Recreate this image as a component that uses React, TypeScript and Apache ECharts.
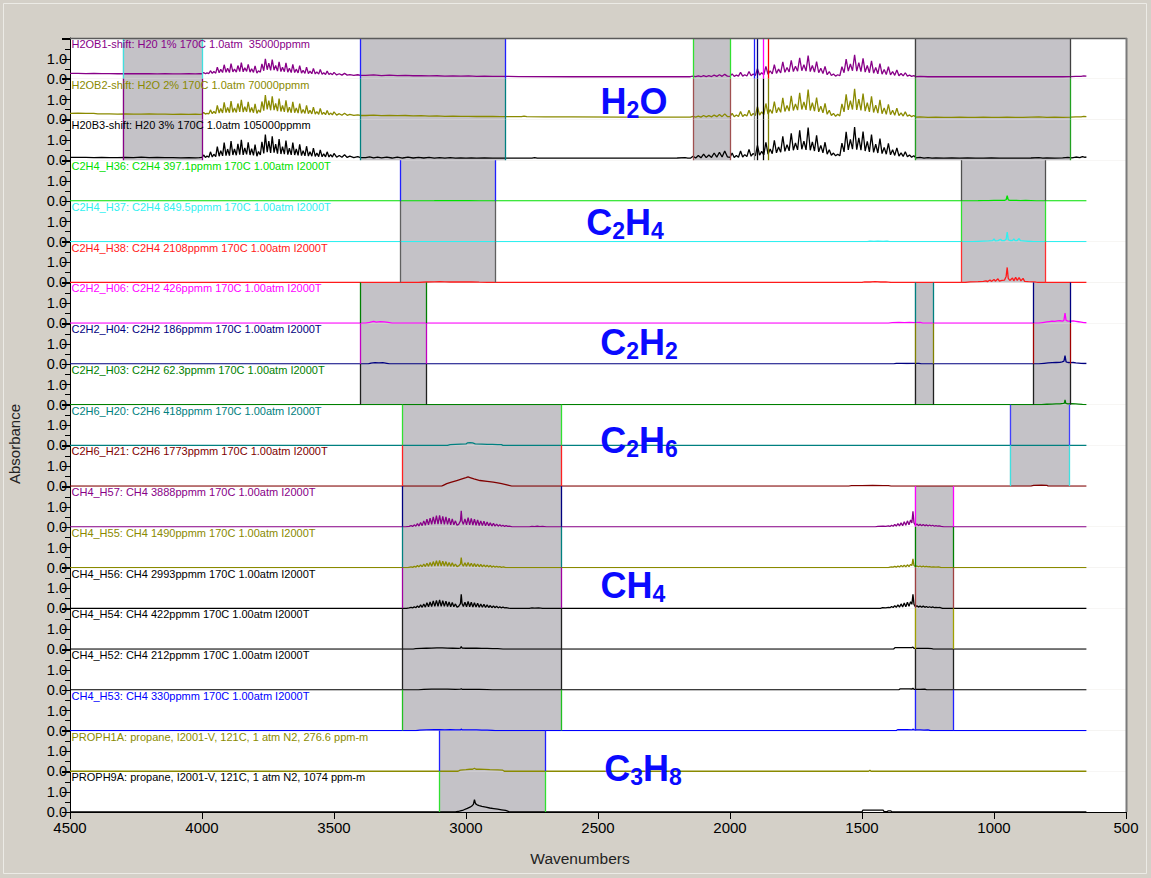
import React, { useEffect, useRef } from "react";
import * as echarts from "echarts";

// ---------- axes ----------
const X_MIN = 500;
const X_MAX = 4500;
const X_STEP = 500;
const Y_MAX = 2.04;
const Y_TICK_LABELS: Record<number, string> = { 0: "0.0", 1: "1.0" };

// ---------- strip labels & colours ----------
const LABELS = [
  "H2OB1-shift: H20 1% 170C 1.0atm  35000ppmm",
  "H2OB2-shift: H2O 2% 170C 1.0atm 70000ppmm",
  "H20B3-shift: H20 3% 170C 1.0atm 105000ppmm",
  "C2H4_H36: C2H4 397.1ppmm 170C 1.00atm I2000T",
  "C2H4_H37: C2H4 849.5ppmm 170C 1.00atm I2000T",
  "C2H4_H38: C2H4 2108ppmm 170C 1.00atm I2000T",
  "C2H2_H06: C2H2 426ppmm 170C 1.00atm I2000T",
  "C2H2_H04: C2H2 186ppmm 170C 1.00atm I2000T",
  "C2H2_H03: C2H2 62.3ppmm 170C 1.00atm I2000T",
  "C2H6_H20: C2H6 418ppmm 170C 1.00atm I2000T",
  "C2H6_H21: C2H6 1773ppmm 170C 1.00atm I2000T",
  "CH4_H57: CH4 3888ppmm 170C 1.00atm I2000T",
  "CH4_H55: CH4 1490ppmm 170C 1.00atm I2000T",
  "CH4_H56: CH4 2993ppmm 170C 1.00atm I2000T",
  "CH4_H54: CH4 422ppmm 170C 1.00atm I2000T",
  "CH4_H52: CH4 212ppmm 170C 1.00atm I2000T",
  "CH4_H53: CH4 330ppmm 170C 1.00atm I2000T",
  "PROPH1A: propane, I2001-V, 121C, 1 atm N2, 276.6 ppm-m",
  "PROPH9A: propane, I2001-V, 121C, 1 atm N2, 1074 ppm-m",
];

const COLORS = [
  "#880088", "#8a8a00", "#000000",
  "#00e000", "#30f0f0", "#ff1a1a",
  "#ff00ff", "#000080", "#008000",
  "#008080", "#800000",
  "#880088", "#8a8a00", "#000000", "#000000", "#000000", "#0000ff",
  "#8a8a00", "#000000",
];

// ---------- spectra [wavenumber, absorbance] ----------
const H2O_B1: [number, number][] = [
  [4500,0.27],[4470,0.27],[4440,0.26],[4410,0.27],[4380,0.26],[4350,0.26],[4320,0.25],[4290,0.26],[4260,0.25],[4230,0.25],[4200,0.25],[4170,0.24],[4140,0.25],[4110,0.24],[4080,0.24],[4050,0.25],[4025,0.24],[4010,0.25],
  [4000,0.25],[3994,0.31],[3987,0.25],[3981,0.29],[3974,0.26],[3968,0.40],[3961,0.27],[3955,0.36],[3948,0.28],[3942,0.58],[3935,0.30],[3929,0.47],[3922,0.31],[3916,0.70],[3909,0.32],[3903,0.52],[3896,0.31],[3890,0.76],[3883,0.34],[3877,0.49],[3870,0.33],[3864,0.66],[3857,0.36],[3851,0.81],[3844,0.35],[3838,0.55],[3831,0.37],[3825,0.72],[3818,0.33],[3812,0.50],[3805,0.32],[3799,0.64],[3792,0.28],[3786,0.40],[3779,0.33],[3773,0.74],[3766,0.40],[3760,1.00],[3753,0.45],[3747,0.78],[3740,0.42],[3734,0.96],[3727,0.43],[3721,0.66],[3714,0.38],[3708,0.85],[3701,0.36],[3695,0.58],[3688,0.35],[3682,0.79],[3675,0.33],[3669,0.52],[3662,0.31],[3656,0.72],[3649,0.31],[3643,0.48],[3636,0.29],[3630,0.66],[3623,0.28],[3617,0.42],[3610,0.27],[3604,0.58],[3597,0.26],[3591,0.38],[3584,0.25],[3578,0.52],[3571,0.24],[3565,0.34],[3558,0.23],[3552,0.46],[3545,0.22],[3539,0.30],[3532,0.21],[3526,0.38],[3519,0.21],[3513,0.27],[3506,0.20],[3500,0.32],[3490,0.19],[3480,0.25],[3470,0.18],[3460,0.27],[3450,0.18],[3440,0.21],[3425,0.17],[3410,0.20],[3400,0.17],
  [3380,0.17],[3350,0.19],[3320,0.16],[3290,0.18],[3260,0.16],[3230,0.17],[3200,0.15],[3170,0.16],[3140,0.14],[3110,0.15],[3080,0.13],[3050,0.14],[3020,0.13],[2990,0.14],[2960,0.12],[2930,0.13],[2900,0.12],[2870,0.12],
  [2800,0.11],[2600,0.10],[2400,0.10],[2250,0.10],[2200,0.10],[2160,0.10],
  [2150,0.10],[2140,0.13],[2130,0.10],[2120,0.14],[2110,0.10],[2100,0.16],[2090,0.11],[2080,0.15],[2070,0.11],[2060,0.18],[2050,0.12],[2040,0.20],[2030,0.12],[2020,0.22],[2010,0.13],
  [2000,0.12],[1992,0.24],[1984,0.12],[1976,0.18],[1968,0.13],[1960,0.32],[1952,0.13],[1944,0.20],[1936,0.14],[1928,0.36],[1920,0.15],[1912,0.24],[1904,0.16],[1896,0.50],[1888,0.18],[1880,0.30],[1872,0.20],[1864,0.62],[1856,0.22],[1848,0.40],[1840,0.24],[1832,0.70],[1824,0.27],[1816,0.48],[1808,0.29],[1800,0.84],[1792,0.32],[1784,0.56],[1776,0.34],[1768,0.92],[1760,0.36],[1752,0.62],[1744,0.38],[1736,1.04],[1728,0.40],[1720,0.70],[1712,0.38],[1704,1.16],[1696,0.36],[1688,0.66],[1680,0.33],[1672,0.86],[1664,0.30],[1656,0.52],[1648,0.26],[1640,0.62],[1632,0.20],[1624,0.36],[1616,0.16],[1608,0.24],[1600,0.13],[1592,0.20],[1584,0.15],[1576,0.60],[1568,0.30],[1560,0.98],[1552,0.38],[1544,0.74],[1536,0.40],[1528,1.20],[1520,0.38],[1512,0.80],[1504,0.36],[1496,1.02],[1488,0.33],[1480,0.66],[1472,0.30],[1464,0.90],[1456,0.28],[1448,0.56],[1440,0.25],[1432,0.76],[1424,0.23],[1416,0.46],[1408,0.21],[1400,0.60],[1392,0.19],[1384,0.36],[1376,0.17],[1368,0.44],[1360,0.15],[1352,0.26],[1344,0.14],[1336,0.30],[1328,0.13],[1320,0.18],[1312,0.12],[1304,0.16],
  [1296,0.11],[1280,0.12],[1250,0.10],[1220,0.11],[1190,0.10],[1160,0.10],[1130,0.11],[1100,0.10],[1070,0.10],[1040,0.11],[1010,0.10],[980,0.10],[950,0.11],[920,0.10],[890,0.10],[860,0.10],[830,0.11],[800,0.10],[770,0.11],[740,0.10],[710,0.11],[690,0.12],[670,0.12],[660,0.14],[650,0.13],
];

const H2O_B2: [number, number][] = [
  [4500,0.31],[4470,0.32],[4440,0.31],[4410,0.31],[4395,0.28],[4380,0.28],[4350,0.28],[4320,0.27],[4290,0.28],[4260,0.27],[4230,0.27],[4200,0.28],[4170,0.27],[4140,0.27],[4110,0.26],[4080,0.27],[4050,0.26],[4025,0.27],[4010,0.26],
  [4000,0.27],[3994,0.35],[3987,0.27],[3981,0.31],[3974,0.28],[3968,0.48],[3961,0.29],[3955,0.40],[3948,0.30],[3942,0.70],[3935,0.32],[3929,0.55],[3922,0.33],[3916,0.86],[3909,0.34],[3903,0.60],[3896,0.34],[3890,0.92],[3883,0.36],[3877,0.58],[3870,0.35],[3864,0.80],[3857,0.38],[3851,0.98],[3844,0.37],[3838,0.64],[3831,0.39],[3825,0.88],[3818,0.36],[3812,0.60],[3805,0.34],[3799,0.78],[3792,0.30],[3786,0.48],[3779,0.36],[3773,0.90],[3766,0.44],[3760,1.22],[3753,0.50],[3747,0.94],[3740,0.46],[3734,1.16],[3727,0.47],[3721,0.80],[3714,0.42],[3708,1.04],[3701,0.40],[3695,0.70],[3688,0.38],[3682,0.96],[3675,0.36],[3669,0.62],[3662,0.34],[3656,0.88],[3649,0.34],[3643,0.58],[3636,0.32],[3630,0.80],[3623,0.31],[3617,0.50],[3610,0.30],[3604,0.70],[3597,0.29],[3591,0.46],[3584,0.28],[3578,0.62],[3571,0.27],[3565,0.40],[3558,0.26],[3552,0.55],[3545,0.25],[3539,0.36],[3532,0.24],[3526,0.45],[3519,0.24],[3513,0.32],[3506,0.23],[3500,0.38],[3490,0.22],[3480,0.29],[3470,0.21],[3460,0.31],[3450,0.21],[3440,0.25],[3425,0.20],[3410,0.23],[3400,0.20],
  [3380,0.20],[3350,0.22],[3320,0.19],[3290,0.20],[3260,0.19],[3230,0.20],[3200,0.18],[3170,0.19],[3140,0.17],[3110,0.18],[3080,0.16],[3050,0.17],[3020,0.16],[2990,0.16],[2960,0.15],[2930,0.15],[2900,0.15],[2870,0.14],[2790,0.14],[2780,0.17],[2770,0.14],
  [2700,0.13],[2600,0.13],[2400,0.12],[2250,0.12],[2200,0.12],[2160,0.12],
  [2150,0.12],[2140,0.16],[2130,0.12],[2120,0.17],[2110,0.12],[2100,0.20],[2090,0.13],[2080,0.19],[2070,0.13],[2060,0.22],[2050,0.14],[2040,0.25],[2030,0.14],[2020,0.28],[2010,0.15],
  [2000,0.14],[1992,0.30],[1984,0.14],[1976,0.22],[1968,0.15],[1960,0.40],[1952,0.15],[1944,0.25],[1936,0.17],[1928,0.46],[1920,0.18],[1912,0.30],[1904,0.20],[1896,0.64],[1888,0.22],[1880,0.38],[1872,0.24],[1864,0.80],[1856,0.27],[1848,0.50],[1840,0.30],[1832,0.90],[1824,0.33],[1816,0.60],[1808,0.36],[1800,1.08],[1792,0.40],[1784,0.70],[1776,0.42],[1768,1.18],[1760,0.45],[1752,0.78],[1744,0.47],[1736,1.34],[1728,0.50],[1720,0.88],[1712,0.48],[1704,1.50],[1696,0.45],[1688,0.84],[1680,0.42],[1672,1.10],[1664,0.38],[1656,0.66],[1648,0.33],[1640,0.80],[1632,0.26],[1624,0.46],[1616,0.20],[1608,0.30],[1600,0.16],[1592,0.26],[1584,0.18],[1576,0.78],[1568,0.38],[1560,1.26],[1552,0.48],[1544,0.94],[1536,0.50],[1528,1.54],[1520,0.48],[1512,1.02],[1504,0.45],[1496,1.30],[1488,0.42],[1480,0.84],[1472,0.38],[1464,1.16],[1456,0.35],[1448,0.72],[1440,0.32],[1432,0.98],[1424,0.29],[1416,0.58],[1408,0.26],[1400,0.76],[1392,0.24],[1384,0.46],[1376,0.21],[1368,0.56],[1360,0.19],[1352,0.33],[1344,0.17],[1336,0.38],[1328,0.16],[1320,0.23],[1312,0.14],[1304,0.20],
  [1296,0.12],[1280,0.13],[1250,0.11],[1220,0.12],[1190,0.11],[1160,0.11],[1130,0.12],[1100,0.11],[1070,0.11],[1040,0.12],[1010,0.11],[980,0.11],[950,0.12],[920,0.11],[890,0.11],[860,0.12],[830,0.13],[800,0.11],[770,0.12],[740,0.11],[710,0.12],[690,0.13],[670,0.13],[660,0.15],[650,0.14],
];

const H2O_B3: [number, number][] = [
  [4500,0.14],[4470,0.14],[4440,0.14],[4410,0.13],[4380,0.14],[4350,0.13],[4320,0.13],[4290,0.14],[4260,0.13],[4230,0.15],[4200,0.13],[4170,0.14],[4140,0.13],[4110,0.13],[4080,0.12],[4050,0.13],[4025,0.12],[4010,0.13],
  [4000,0.14],[3994,0.26],[3987,0.14],[3981,0.21],[3974,0.15],[3968,0.42],[3961,0.16],[3955,0.30],[3948,0.18],[3942,0.68],[3935,0.20],[3929,0.48],[3922,0.22],[3916,0.88],[3909,0.23],[3903,0.56],[3896,0.23],[3890,0.96],[3883,0.26],[3877,0.56],[3870,0.25],[3864,0.82],[3857,0.28],[3851,1.02],[3844,0.27],[3838,0.62],[3831,0.29],[3825,0.90],[3818,0.26],[3812,0.58],[3805,0.24],[3799,0.78],[3792,0.20],[3786,0.44],[3779,0.26],[3773,0.92],[3766,0.34],[3760,1.28],[3753,0.40],[3747,0.96],[3740,0.37],[3734,1.20],[3727,0.38],[3721,0.80],[3714,0.33],[3708,1.06],[3701,0.31],[3695,0.68],[3688,0.30],[3682,0.98],[3675,0.28],[3669,0.60],[3662,0.27],[3656,0.88],[3649,0.26],[3643,0.56],[3636,0.24],[3630,0.80],[3623,0.23],[3617,0.48],[3610,0.22],[3604,0.70],[3597,0.21],[3591,0.42],[3584,0.20],[3578,0.60],[3571,0.19],[3565,0.36],[3558,0.18],[3552,0.52],[3545,0.17],[3539,0.32],[3532,0.17],[3526,0.42],[3519,0.16],[3513,0.28],[3506,0.16],[3500,0.34],[3490,0.15],[3480,0.24],[3470,0.15],[3460,0.27],[3450,0.14],[3440,0.20],[3425,0.13],[3410,0.18],[3400,0.13],
  [3380,0.13],[3365,0.17],[3350,0.12],[3335,0.16],[3320,0.12],[3300,0.15],[3280,0.11],[3260,0.16],[3240,0.11],[3220,0.15],[3200,0.11],[3180,0.14],[3160,0.11],[3140,0.14],[3120,0.10],[3100,0.13],[3080,0.10],[3060,0.13],[3040,0.10],[3020,0.12],[3000,0.10],[2980,0.12],[2960,0.10],[2930,0.11],[2900,0.10],[2870,0.10],[2750,0.10],[2740,0.13],[2730,0.10],
  [2600,0.10],[2400,0.10],[2250,0.10],[2200,0.11],[2170,0.13],[2160,0.10],
  [2150,0.10],[2140,0.20],[2130,0.11],[2120,0.24],[2110,0.12],[2100,0.30],[2090,0.13],[2080,0.26],[2070,0.14],[2060,0.36],[2050,0.15],[2040,0.40],[2030,0.16],[2020,0.46],[2010,0.17],
  [2000,0.14],[1992,0.36],[1984,0.14],[1976,0.24],[1968,0.15],[1960,0.46],[1952,0.16],[1944,0.28],[1936,0.18],[1928,0.54],[1920,0.20],[1912,0.34],[1904,0.22],[1896,0.74],[1888,0.25],[1880,0.44],[1872,0.27],[1864,0.90],[1856,0.30],[1848,0.56],[1840,0.33],[1832,1.00],[1824,0.37],[1816,0.66],[1808,0.40],[1800,1.20],[1792,0.44],[1784,0.78],[1776,0.47],[1768,1.34],[1760,0.50],[1752,0.86],[1744,0.52],[1736,1.50],[1728,0.55],[1720,0.96],[1712,0.52],[1704,1.64],[1696,0.50],[1688,0.92],[1680,0.46],[1672,1.24],[1664,0.42],[1656,0.74],[1648,0.37],[1640,0.90],[1632,0.30],[1624,0.52],[1616,0.25],[1608,0.36],[1600,0.22],[1592,0.30],[1584,0.22],[1576,0.86],[1568,0.42],[1560,1.42],[1552,0.52],[1544,1.04],[1536,0.55],[1528,1.66],[1520,0.53],[1512,1.12],[1504,0.50],[1496,1.44],[1488,0.46],[1480,0.94],[1472,0.42],[1464,1.28],[1456,0.39],[1448,0.80],[1440,0.36],[1432,1.08],[1424,0.33],[1416,0.64],[1408,0.30],[1400,0.84],[1392,0.27],[1384,0.52],[1376,0.24],[1368,0.62],[1360,0.21],[1352,0.37],[1344,0.19],[1336,0.42],[1328,0.17],[1320,0.26],[1312,0.15],[1304,0.22],
  [1296,0.12],[1280,0.14],[1265,0.10],[1250,0.13],[1235,0.10],[1220,0.12],[1190,0.10],[1160,0.11],[1130,0.10],[1100,0.11],[1070,0.10],[1040,0.10],[1010,0.11],[980,0.10],[950,0.10],[920,0.10],[890,0.10],[860,0.11],[830,0.13],[815,0.10],[800,0.12],[770,0.10],[740,0.12],[720,0.14],[705,0.12],[690,0.16],[675,0.13],[665,0.18],[655,0.14],[650,0.17],
];

const C2H4_H36: [number, number][] = [
  [4500,0],[3200,0],[3120,0.01],[3100,0.02],[3080,0.01],[3000,0.01],[2990,0.02],[2950,0],[1100,0],[1060,0.01],[1040,0.02],[1020,0.02],[1000,0.03],[980,0.03],[960,0.03],[954,0.06],[950,0.27],[946,0.05],[940,0.03],[920,0.03],[900,0.02],[880,0.03],[860,0.02],[840,0],[650,0],
];
const C2H4_H37: [number, number][] = [
  [4500,0],[1480,0],[1470,0.03],[1455,0.02],[1440,0.03],[1420,0.02],[1405,0.03],[1395,0],[1080,0],[1060,0.02],[1040,0.03],[1020,0.04],[1005,0.05],[1000,0.14],[995,0.04],[985,0.05],[975,0.12],[970,0.05],[960,0.06],[954,0.12],[950,0.48],[946,0.10],[940,0.06],[930,0.05],[925,0.14],[920,0.05],[912,0.06],[905,0.16],[900,0.05],[890,0.04],[880,0.03],[860,0.01],[850,0],[650,0],
];
const C2H4_H38: [number, number][] = [
  [4500,0],[3180,0],[3150,0.02],[3120,0.03],[3100,0.04],[3080,0.03],[3060,0.02],[3020,0.03],[3000,0.02],[2980,0.03],[2950,0.01],[2900,0],[1500,0],[1490,0.03],[1470,0.02],[1450,0.04],[1430,0.02],[1410,0.03],[1390,0],[1110,0],[1090,0.03],[1060,0.04],[1040,0.05],[1030,0.08],[1025,0.04],[1015,0.12],[1010,0.05],[1000,0.15],[995,0.06],[985,0.18],[980,0.07],[970,0.10],[960,0.12],[954,0.30],[950,0.75],[946,0.20],[940,0.10],[930,0.22],[925,0.08],[918,0.25],[912,0.10],[905,0.24],[898,0.08],[890,0.20],[884,0.05],[870,0.04],[850,0.03],[840,0.01],[830,0],[650,0],
];

const C2H2_H06: [number, number][] = [
  [4500,0],[3380,0],[3365,0.04],[3350,0.09],[3340,0.05],[3325,0.08],[3310,0.06],[3295,0.04],[3280,0],[1400,0],[1385,0.03],[1360,0.04],[1340,0.03],[1320,0.04],[1300,0.03],[1280,0.04],[1270,0],[830,0],[815,0.03],[800,0.06],[790,0.08],[780,0.10],[770,0.09],[760,0.11],[750,0.12],[740,0.10],[735,0.15],[731,0.50],[727,0.14],[720,0.10],[710,0.10],[700,0.11],[690,0.09],[680,0.07],[670,0.05],[660,0.03],[650,0.02],
];
const C2H2_H04: [number, number][] = [
  [4500,0],[3370,0],[3360,0.04],[3345,0.06],[3330,0.05],[3315,0.06],[3300,0.03],[3290,0],[1380,0],[1370,0.03],[1350,0.03],[1330,0.02],[1300,0.03],[1285,0.03],[1275,0],[830,0],[810,0.03],[795,0.05],[780,0.06],[765,0.07],[750,0.08],[742,0.10],[735,0.14],[731,0.42],[727,0.10],[720,0.07],[710,0.06],[700,0.07],[690,0.05],[680,0.04],[670,0.03],[660,0.02],[650,0.02],
];
const C2H2_H03: [number, number][] = [
  [4500,0],[820,0],[800,0.02],[780,0.03],[765,0.04],[750,0.04],[738,0.06],[733,0.08],[731,0.24],[728,0.06],[720,0.04],[705,0.05],[690,0.04],[680,0.03],[665,0.01],[650,0],
];

const C2H6_H20: [number, number][] = [
  [4500,0],[3070,0],[3060,0.04],[3040,0.05],[3020,0.06],[3000,0.07],[2995,0.12],[2985,0.13],[2975,0.12],[2965,0.07],[2940,0.06],[2920,0.05],[2900,0.05],[2880,0.04],[2866,0.04],[2860,0],[650,0],
];
const C2H6_H21: [number, number][] = [
  [4500,0],[3092,0],[3073,0.12],[3055,0.2],[3035,0.28],[3015,0.36],[3000,0.42],[2992,0.46],[2985,0.43],[2970,0.36],[2947,0.28],[2920,0.24],[2897,0.2],[2880,0.16],[2865,0.12],[2845,0.06],[2827,0],[1550,0],[1540,0.02],[1500,0.02],[1460,0.03],[1420,0.02],[1400,0.02],[1390,0],[860,0],[850,0.04],[820,0.05],[800,0.04],[795,0],[650,0],
];

const CH4_H57: [number, number][] = [
  [4500,0],[3230,0],[3215,0.02],[3208,0.06],[3202,0.02],[3196,0.10],[3190,0.03],[3184,0.16],[3178,0.04],[3172,0.22],[3166,0.06],[3160,0.30],[3154,0.08],[3148,0.38],[3142,0.10],[3136,0.44],[3130,0.12],[3124,0.50],[3118,0.14],[3112,0.56],[3106,0.14],[3100,0.58],[3094,0.14],[3088,0.52],[3082,0.13],[3076,0.50],[3070,0.12],[3064,0.44],[3058,0.10],[3052,0.40],[3046,0.10],[3040,0.30],[3034,0.08],[3028,0.12],[3021,0.30],[3018,0.80],[3015,0.30],[3010,0.12],[3004,0.40],[2998,0.10],[2992,0.46],[2986,0.10],[2980,0.42],[2974,0.09],[2968,0.38],[2962,0.08],[2956,0.34],[2950,0.07],[2944,0.30],[2938,0.06],[2932,0.28],[2926,0.05],[2920,0.24],[2914,0.05],[2908,0.20],[2902,0.04],[2896,0.17],[2890,0.04],[2884,0.14],[2878,0.03],[2872,0.11],[2866,0.03],[2860,0.08],[2854,0.02],[2848,0.06],[2842,0.02],[2836,0.04],[2825,0],[2760,0],[2750,0.02],[2740,0.01],[2730,0.03],[2720,0.01],[2710,0.02],[2695,0],
  [1450,0],[1440,0.02],[1420,0.03],[1410,0.02],[1400,0.05],[1394,0.02],[1388,0.08],[1382,0.03],[1376,0.12],[1370,0.04],[1364,0.16],[1358,0.05],[1352,0.20],[1346,0.06],[1340,0.26],[1334,0.08],[1328,0.30],[1322,0.10],[1316,0.34],[1311,0.20],[1307,0.78],[1303,0.20],[1298,0.08],[1292,0.14],[1286,0.06],[1280,0.13],[1274,0.05],[1268,0.12],[1262,0.05],[1256,0.10],[1250,0.04],[1244,0.09],[1238,0.04],[1232,0.08],[1226,0.03],[1220,0.06],[1214,0.03],[1208,0.05],[1200,0.02],[1190,0],[650,0],
];
const CH4_H55: [number, number][] = [
  [4500,0],[3220,0],[3208,0.03],[3202,0.01],[3196,0.06],[3190,0.02],[3184,0.10],[3178,0.03],[3172,0.14],[3166,0.04],[3160,0.18],[3154,0.05],[3148,0.22],[3142,0.06],[3136,0.26],[3130,0.07],[3124,0.30],[3118,0.08],[3112,0.34],[3106,0.08],[3100,0.36],[3094,0.08],[3088,0.32],[3082,0.08],[3076,0.30],[3070,0.07],[3064,0.26],[3058,0.06],[3052,0.24],[3046,0.06],[3040,0.18],[3034,0.05],[3028,0.08],[3021,0.18],[3018,0.50],[3015,0.18],[3010,0.07],[3004,0.24],[2998,0.06],[2992,0.26],[2986,0.06],[2980,0.22],[2974,0.05],[2968,0.20],[2962,0.05],[2956,0.18],[2950,0.04],[2944,0.16],[2938,0.04],[2932,0.14],[2926,0.03],[2920,0.12],[2914,0.03],[2908,0.10],[2902,0.02],[2896,0.08],[2890,0.02],[2884,0.06],[2878,0.02],[2872,0.05],[2866,0.01],[2858,0.03],[2850,0],
  [1400,0],[1394,0.02],[1388,0.04],[1382,0.02],[1376,0.06],[1370,0.02],[1364,0.08],[1358,0.03],[1352,0.10],[1346,0.04],[1340,0.12],[1334,0.04],[1328,0.14],[1322,0.05],[1316,0.16],[1311,0.10],[1307,0.44],[1303,0.10],[1298,0.05],[1292,0.08],[1286,0.04],[1280,0.08],[1274,0.03],[1268,0.07],[1262,0.03],[1256,0.06],[1250,0.03],[1244,0.05],[1238,0.02],[1230,0.04],[1220,0.02],[1210,0.03],[1200,0],[650,0],
];
const CH4_H56: [number, number][] = [
  [4500,0],[3225,0],[3215,0.02],[3208,0.05],[3202,0.02],[3196,0.08],[3190,0.03],[3184,0.12],[3178,0.04],[3172,0.17],[3166,0.05],[3160,0.22],[3154,0.06],[3148,0.28],[3142,0.08],[3136,0.32],[3130,0.09],[3124,0.37],[3118,0.10],[3112,0.40],[3106,0.10],[3100,0.42],[3094,0.10],[3088,0.38],[3082,0.10],[3076,0.36],[3070,0.09],[3064,0.32],[3058,0.08],[3052,0.29],[3046,0.08],[3040,0.22],[3034,0.06],[3028,0.10],[3021,0.24],[3018,0.70],[3015,0.24],[3010,0.09],[3004,0.30],[2998,0.08],[2992,0.34],[2986,0.08],[2980,0.30],[2974,0.07],[2968,0.28],[2962,0.06],[2956,0.25],[2950,0.05],[2944,0.22],[2938,0.05],[2932,0.20],[2926,0.04],[2920,0.17],[2914,0.04],[2908,0.14],[2902,0.03],[2896,0.12],[2890,0.03],[2884,0.10],[2878,0.02],[2872,0.08],[2866,0.02],[2860,0.06],[2854,0.02],[2848,0.04],[2840,0.01],[2830,0],[2760,0],[2750,0.02],[2740,0.01],[2725,0.02],[2710,0],
  [1430,0],[1422,0.03],[1410,0.02],[1400,0.05],[1394,0.03],[1388,0.09],[1382,0.04],[1376,0.13],[1370,0.05],[1364,0.17],[1358,0.06],[1352,0.22],[1346,0.07],[1340,0.26],[1334,0.08],[1328,0.30],[1322,0.10],[1316,0.33],[1311,0.20],[1307,0.70],[1303,0.20],[1298,0.08],[1292,0.13],[1286,0.06],[1280,0.12],[1274,0.05],[1268,0.11],[1262,0.05],[1256,0.09],[1250,0.04],[1244,0.08],[1238,0.04],[1232,0.07],[1226,0.03],[1220,0.05],[1212,0.03],[1204,0.04],[1195,0],[650,0],
];
const CH4_H54: [number, number][] = [
  [4500,0],[3200,0],[3190,0.02],[3170,0.03],[3150,0.04],[3130,0.05],[3110,0.06],[3090,0.06],[3070,0.05],[3050,0.04],[3030,0.03],[3021,0.05],[3018,0.12],[3015,0.05],[3000,0.04],[2980,0.05],[2960,0.04],[2940,0.03],[2920,0.03],[2900,0.02],[2880,0.02],[2860,0],
  [1380,0],[1375,0.07],[1340,0.07],[1312,0.07],[1307,0.10],[1303,0.04],[1290,0.03],[1270,0.03],[1250,0.03],[1236,0.02],[1230,0],[650,0],
];
const CH4_H52: [number, number][] = [
  [4500,0],[3180,0],[3160,0.02],[3130,0.03],[3100,0.03],[3070,0.03],[3040,0.02],[3020,0.03],[3018,0.06],[3015,0.02],[2990,0.02],[2950,0.02],[2920,0.01],[2900,0],
  [1360,0],[1355,0.05],[1320,0.05],[1310,0.04],[1307,0.08],[1303,0.02],[1280,0.02],[1262,0.03],[1255,0],[650,0],
];
const CH4_H53: [number, number][] = [
  [4500,0],[3190,0],[3175,0.02],[3150,0.03],[3120,0.04],[3100,0.04],[3080,0.03],[3060,0.04],[3040,0.03],[3020,0.04],[3018,0.07],[3014,0.03],[2990,0.03],[2960,0.03],[2940,0.02],[2920,0.02],[2900,0.01],[2890,0],
  [1370,0],[1365,0.04],[1330,0.04],[1310,0.03],[1307,0.07],[1303,0.03],[1280,0.03],[1265,0.02],[1250,0.03],[1240,0],[650,0],
];

const PROPH1A: [number, number][] = [
  [4500,0],[3030,0],[3022,0.06],[3000,0.08],[2985,0.10],[2975,0.10],[2968,0.15],[2962,0.10],[2950,0.10],[2930,0.09],[2910,0.08],[2880,0.07],[2862,0.06],[2855,0],[1475,0],[1470,0.05],[1466,0],[650,0],
];
const PROPH9A: [number, number][] = [
  [4500,0],[3040,0],[3025,0.04],[3010,0.10],[2995,0.18],[2985,0.24],[2978,0.30],[2972,0.38],[2968,0.62],[2964,0.42],[2958,0.36],[2950,0.32],[2940,0.28],[2925,0.24],[2910,0.20],[2895,0.17],[2880,0.14],[2865,0.11],[2850,0.08],[2842,0.04],[2835,0],[1500,0],[1497,0.09],[1420,0.09],[1416,0.02],[1405,0.02],[1400,0.06],[1392,0.06],[1388,0.02],[1380,0],[650,0],
];

const SPECTRA = [
  H2O_B1, H2O_B2, H2O_B3,
  C2H4_H36, C2H4_H37, C2H4_H38,
  C2H2_H06, C2H2_H04, C2H2_H03,
  C2H6_H20, C2H6_H21,
  CH4_H57, CH4_H55, CH4_H56, CH4_H54, CH4_H52, CH4_H53,
  PROPH1A, PROPH9A,
];

// ---------- shaded wavenumber windows per gas group ----------
const SHADE_H2O: [number, number][] = [[4300, 4000], [3400, 2850], [2140, 2000], [1300, 710]];
const LINES_H2O = [1909, 1898, 1875, 1856];
const SHADE_C2H4: [number, number][] = [[3250, 2890], [1125, 807]];
const SHADE_C2H2: [number, number][] = [[3400, 3150], [1300, 1230], [850, 710]];
const SHADE_C2H6: [number, number][] = [[3240, 2640], [940, 715]];
const SHADE_CH4: [number, number][] = [[3240, 2640], [1300, 1155]];
const SHADE_C3H8: [number, number][] = [[3100, 2700]];

const SHADE_BY_STRIP = [
  SHADE_H2O, SHADE_H2O, SHADE_H2O,
  SHADE_C2H4, SHADE_C2H4, SHADE_C2H4,
  SHADE_C2H2, SHADE_C2H2, SHADE_C2H2,
  SHADE_C2H6, SHADE_C2H6,
  SHADE_CH4, SHADE_CH4, SHADE_CH4, SHADE_CH4, SHADE_CH4, SHADE_CH4,
  SHADE_C3H8, SHADE_C3H8,
];

// ---------- styling ----------
const FONT = "'Liberation Sans', Arial, Helvetica, sans-serif";
const BG = "#d4d0c8";
const SHADE_FILL = "#c4c2c7";
const GAS_BLUE = "#0a0aff";
const PLOT_LEFT = 70;
const PLOT_TOP = 38;
const PLOT_W = 1056;
const PLOT_H = 774;

const EDGES: string[][] = [
  ["#40e0e0", "#2020ff", "#30e030", "#404040"],
  ["#880088", "#008080", "#a05050", "#20a020"],
  ["#880088", "#008080", "#a05050", "#20a020"],
  ["#2020ff", "#505050"],
  ["#606060", "#30e030"],
  ["#606060", "#ff3030"],
  ["#008000", "#008080", "#000080"],
  ["#c000c0", "#808000", "#a00000"],
  ["#202020", "#202020", "#202020"],
  ["#30e030", "#4040ff"],
  ["#ff2020", "#40e0e0"],
  ["#000080", "#ff00ff"],
  ["#008080", "#008000"],
  ["#a000a0", "#a04040"],
  ["#202020", "#a0a000"],
  ["#202020", "#202020"],
  ["#20c020", "#2020ff"],
  ["#2020ff"],
  ["#30e030"],
];
const H2O_LINE_COLORS = [
  ["#2020ff", "#000080", "#ff00ff", "#ff0000"],
  ["#808080", "#000000", "#000000", "#808000"],
  ["#808080", "#000000", "#000000", "#808000"],
];

const GAS_LABELS = [
  { text: "{m|H}{s|2}{m|O}", x: 634, y: 101 },
  { text: "{m|C}{s|2}{m|H}{s|4}", x: 625, y: 222 },
  { text: "{m|C}{s|2}{m|H}{s|2}", x: 639, y: 342 },
  { text: "{m|C}{s|2}{m|H}{s|6}", x: 639, y: 440 },
  { text: "{m|CH}{s|4}", x: 633, y: 585 },
  { text: "{m|C}{s|3}{m|H}{s|8}", x: 643, y: 768 },
];

function buildOption() {
  const n = SPECTRA.length;
  const S = PLOT_H / n;
  const grid: any[] = [];
  const xAxis: any[] = [];
  const yAxis: any[] = [];
  const series: any[] = [];
  const graphic: any[] = [];

  for (let i = 0; i < n; i++) {
    const top = PLOT_TOP + i * S;
    const last = i === n - 1;
    grid.push({ left: PLOT_LEFT, top, width: PLOT_W, height: S, show: true, backgroundColor: "#ffffff", borderWidth: 0 });
    xAxis.push({
      type: "value", gridIndex: i, min: X_MIN, max: X_MAX, interval: X_STEP, inverse: true, show: last,
      axisLine: { show: true, onZero: false, lineStyle: { color: "#000", width: 1 } },
      axisTick: { show: true, length: 7, lineStyle: { color: "#000" } },
      axisLabel: { show: true, color: "#000", fontSize: 15, fontFamily: FONT, margin: 8, formatter: (v: number) => String(v) },
      splitLine: { show: false },
    });
    yAxis.push({
      type: "value", gridIndex: i, min: 0, max: Y_MAX, interval: 1,
      axisLine: { show: true, lineStyle: { color: "#000", width: 1 } },
      axisTick: { show: true, length: 8, lineStyle: { color: "#000" } },
      minorTick: { show: true, splitNumber: 2, length: 5, lineStyle: { color: "#000" } },
      splitLine: { show: false },
      minorSplitLine: { show: false },
      axisLabel: {
        color: "#000", fontSize: 14.5, fontFamily: FONT, margin: 3,
        formatter: (v: number) => Y_TICK_LABELS[Math.round(v * 100) / 100] ?? "",
      },
    });

    const regions = SHADE_BY_STRIP[i];
    const edgeCols = EDGES[i];
    const ml: any[] = [];
    regions.forEach((r, k) => {
      ml.push({ xAxis: r[0], lineStyle: { color: edgeCols[k], type: "solid", width: 1.3 } });
      ml.push({ xAxis: r[1], lineStyle: { color: edgeCols[k], type: "solid", width: 1.3 } });
    });
    if (i < 3) {
      LINES_H2O.forEach((w, k) => ml.push({ xAxis: w, lineStyle: { color: H2O_LINE_COLORS[i][k], type: "solid", width: 1.3 } }));
    }
    series.push({
      type: "line", xAxisIndex: i, yAxisIndex: i, data: [], silent: true, z: 1,
      markArea: { silent: true, itemStyle: { color: SHADE_FILL, borderWidth: 0 }, data: regions.map((r) => [{ xAxis: r[0] }, { xAxis: r[1] }]) },
      markLine: { silent: true, symbol: ["none", "none"], label: { show: false }, lineStyle: { type: "solid", width: 1.3 }, emphasis: { disabled: true }, data: ml },
    });
    series.push({
      type: "line", name: LABELS[i], xAxisIndex: i, yAxisIndex: i, data: SPECTRA[i],
      showSymbol: false, symbol: "none", silent: true, z: 3,
      lineStyle: { color: COLORS[i], width: 1.3 }, itemStyle: { color: COLORS[i] },
    });
    graphic.push({
      type: "text", x: PLOT_LEFT + 1.5, y: top + 6, z: 50, silent: true,
      style: { text: LABELS[i], fill: COLORS[i], fontSize: 11, fontFamily: FONT, align: "left", verticalAlign: "middle" },
    });
  }

  GAS_LABELS.forEach((g) => {
    graphic.push({
      type: "text", x: g.x, y: g.y, z: 60, silent: true,
      style: {
        text: g.text, align: "center", verticalAlign: "middle",
        rich: {
          m: { fontSize: 36, fontWeight: "bold", fontFamily: FONT, fill: GAS_BLUE, lineHeight: 40 },
          s: { fontSize: 23, fontWeight: "bold", fontFamily: FONT, fill: GAS_BLUE, lineHeight: 18, verticalAlign: "bottom" },
        },
      },
    });
  });

  graphic.push(
    { type: "line", z: 40, silent: true, shape: { x1: PLOT_LEFT, y1: PLOT_TOP + 0.5, x2: PLOT_LEFT + PLOT_W + 1, y2: PLOT_TOP + 0.5 }, style: { stroke: "#5a5a5a", lineWidth: 1.5 } },
    { type: "line", z: 40, silent: true, shape: { x1: PLOT_LEFT + PLOT_W + 0.5, y1: PLOT_TOP, x2: PLOT_LEFT + PLOT_W + 0.5, y2: PLOT_TOP + PLOT_H }, style: { stroke: "#7a7a7a", lineWidth: 2 } },
    { type: "rect", z: 0, silent: true, shape: { x: 3.5, y: 3.5, width: 1143, height: 870 }, style: { fill: "none", stroke: "#ecebe6", lineWidth: 1 } },
    { type: "text", x: 14, y: 444, rotation: Math.PI / 2, z: 40, silent: true, style: { text: "Absorbance", fill: "#222", fontSize: 15, fontFamily: FONT, align: "center", verticalAlign: "middle" } },
    { type: "text", x: 580, y: 858, z: 40, silent: true, style: { text: "Wavenumbers", fill: "#222", fontSize: 15.5, fontFamily: FONT, align: "center", verticalAlign: "middle" } },
  );

  return { animation: false, backgroundColor: BG, grid, xAxis, yAxis, series, graphic };
}

export default function App() {
  const ref = useRef<HTMLDivElement>(null);
  useEffect(() => {
    if (!ref.current) return;
    const chart = echarts.init(ref.current, undefined, { renderer: "svg" });
    chart.setOption(buildOption() as any);
    return () => chart.dispose();
  }, []);
  return <div ref={ref} style={{ position: "absolute", left: 0, top: 0, width: 1151, height: 878 }} />;
}
